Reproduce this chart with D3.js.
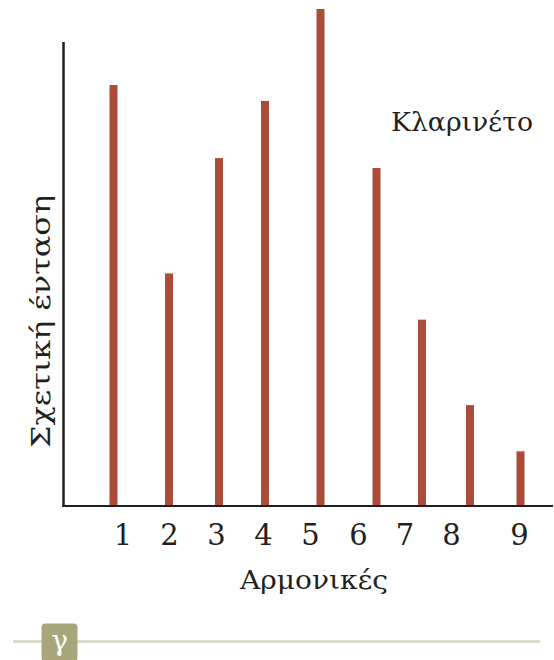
<!DOCTYPE html>
<html>
<head>
<meta charset="utf-8">
<script src="https://cdn.jsdelivr.net/npm/d3@7"></script>
<style>
  body { margin: 0; background: #fff; }
  svg { display: block; }
  text { font-family: "DejaVu Serif", "Liberation Serif", serif; fill: #231f20; }
</style>
</head>
<body>
<svg id="chart" width="554" height="660"></svg>
<script>
// Data
const harmonics = [1, 2, 3, 4, 5, 6, 7, 8, 9];
const intensity = [0.847, 0.468, 0.700, 0.815, 1.0, 0.680, 0.375, 0.203, 0.110];
const barPos = [0.87, 1.98, 2.98, 3.90, 5.01, 6.13, 7.04, 8.0, 9.01];
const tickLabels = ["1", "2", "3", "4", "5", "6", "7", "8", "9"];
const tickPos = [1.06, 1.99, 2.93, 3.87, 4.81, 5.77, 6.70, 7.63, 8.99];
const title = "Κλαρινέτο";
const xTitle = "Αρμονικές";
const yTitle = "Σχετική ένταση";
const panelLetter = "γ";

const svg = d3.select("#chart");
const x = d3.scaleLinear().domain([1, 9]).range([120, 520]);
const y = d3.scaleLinear().domain([0, 1]).range([506, 9]);

// bars
svg.append("g").selectAll("rect").data(harmonics).join("rect")
  .attr("x", (d, i) => x(barPos[i]) - 4)
  .attr("y", (d, i) => y(intensity[i]))
  .attr("width", 8)
  .attr("height", (d, i) => y(0) - y(intensity[i]))
  .attr("fill", "#ac4b3a");

// axes lines
svg.append("line").attr("x1", 63.5).attr("x2", 63.5).attr("y1", 42).attr("y2", y(0) + 1)
  .attr("stroke", "#231f20").attr("stroke-width", 2.5);
svg.append("line").attr("x1", 62.5).attr("x2", 553).attr("y1", y(0)).attr("y2", y(0))
  .attr("stroke", "#231f20").attr("stroke-width", 2);

// tick labels
svg.append("g").selectAll("text").data(tickLabels).join("text")
  .attr("x", (d, i) => x(tickPos[i]))
  .attr("y", 545)
  .attr("text-anchor", "middle")
  .attr("font-family", "Liberation Serif, serif")
  .attr("font-size", 29)
  .text(d => d);

// titles
svg.append("text").attr("x", 240).attr("y", 589)
  .attr("font-size", 26).attr("textLength", 148).attr("lengthAdjust", "spacingAndGlyphs")
  .text(xTitle);
svg.append("text").attr("transform", "translate(50,448) rotate(-90)")
  .attr("font-size", 26).attr("textLength", 253).attr("lengthAdjust", "spacingAndGlyphs")
  .text(yTitle);
svg.append("text").attr("x", 391).attr("y", 131)
  .attr("font-size", 26).attr("textLength", 142).attr("lengthAdjust", "spacingAndGlyphs")
  .text(title);

// bottom decoration
svg.append("line").attr("x1", 13).attr("x2", 540).attr("y1", 641.5).attr("y2", 641.5)
  .attr("stroke", "#d8d5bf").attr("stroke-width", 2.5);
svg.append("rect").attr("x", 41.5).attr("y", 623.5).attr("width", 36).attr("height", 38)
  .attr("rx", 4).attr("fill", "#a9a67b");
svg.append("text").attr("x", 59.5).attr("y", 650).attr("text-anchor", "middle")
  .attr("font-family", "DejaVu Sans, sans-serif")
  .attr("font-size", 28).style("fill", "#fff").text(panelLetter);
</script>
</body>
</html>
